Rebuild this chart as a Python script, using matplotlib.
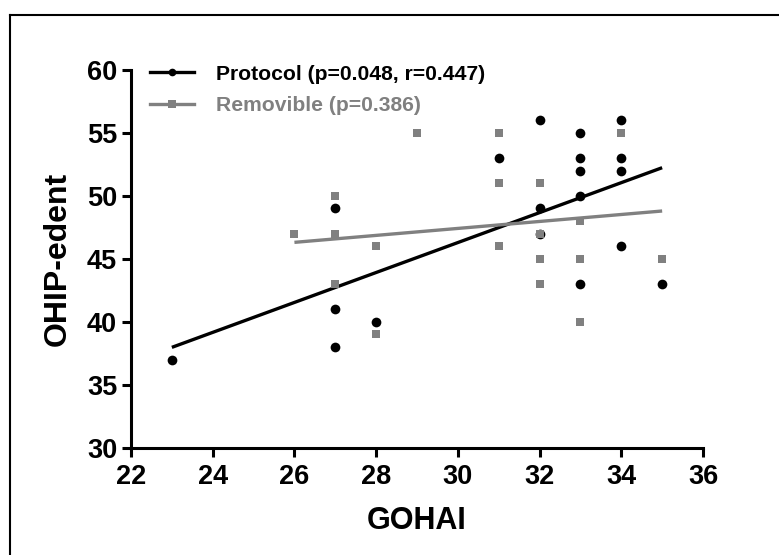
import matplotlib
matplotlib.use("Agg")
import matplotlib.pyplot as plt
from matplotlib.lines import Line2D

plt.rcParams['font.family'] = ['Liberation Sans', 'DejaVu Sans']
plt.rcParams['font.weight'] = 'bold'

# Protocol (black circles)
prot_x = [23, 27, 27, 27, 28, 31, 32, 32, 32, 33, 33, 33, 33, 33, 34, 34, 34, 34, 35]
prot_y = [37, 49, 41, 38, 40, 53, 56, 49, 47, 55, 53, 52, 50, 43, 56, 53, 52, 46, 43]
# Removible (gray squares)
rem_x = [26, 27, 27, 27, 28, 28, 29, 31, 31, 31, 32, 32, 32, 32, 33, 33, 33, 34, 35]
rem_y = [47, 50, 47, 43, 46, 39, 55, 55, 51, 46, 51, 47, 45, 43, 48, 45, 40, 55, 45]

# regression lines, end points
prot_fit_x = [23, 35]
prot_fit_y = [37.97, 52.24]
rem_fit_x = [26, 35]
rem_fit_y = [46.31, 48.8]

labels = ["Protocol (p=0.048, r=0.447)", "Removible (p=0.386)"]
gray = "#808080"

fig = plt.figure(figsize=(7.79, 5.55), dpi=100)
ax = fig.add_axes([131 / 779, 1 - 447.7 / 555, 572 / 779, 377.7 / 555])

ax.plot(prot_fit_x, prot_fit_y, color="black", lw=2.4, solid_capstyle="butt", zorder=2)
ax.plot(rem_fit_x, rem_fit_y, color=gray, lw=2.4, solid_capstyle="butt", zorder=2)
ax.plot(prot_x, prot_y, "o", color="black", ms=7, mew=0, zorder=3)
ax.plot(rem_x, rem_y, "s", color=gray, ms=6.3, mew=0, zorder=4)

ax.set_xlim(22, 36)
ax.set_ylim(30, 60)
ax.set_xticks(range(22, 37, 2))
ax.set_yticks(range(30, 61, 5))
for s in ["top", "right"]:
    ax.spines[s].set_visible(False)
for s in ["left", "bottom"]:
    ax.spines[s].set_linewidth(2.2)
ax.tick_params(direction="out", length=6.5, width=2.2, labelsize=19.5)
ax.tick_params(axis="y", pad=3.5)
ax.tick_params(axis="x", pad=5)

ax.set_xlabel("GOHAI", fontsize=22, fontweight="bold", labelpad=12)
ax.set_ylabel("OHIP-edent", fontsize=23, fontweight="bold", labelpad=10)

handles = [
    Line2D([], [], color="black", lw=2.4, marker="o", ms=5.5, mew=0),
    Line2D([], [], color=gray, lw=2.4, marker="s", ms=5.5, mew=0),
]
leg = ax.legend(handles, labels, loc="upper left", bbox_to_anchor=(0.033, 1.014),
                frameon=False, handlelength=2.1, handletextpad=1.05,
                labelspacing=0.6, borderpad=0, borderaxespad=0,
                prop={"weight": "bold", "size": 15.2})
leg.get_texts()[0].set_color("black")
leg.get_texts()[1].set_color(gray)

# outer frame (only top and left edges visible)
fig.add_artist(Line2D([10 / 779, 10 / 779], [0, 1 - 15 / 555], color="black", lw=1.5,
                      transform=fig.transFigure))
fig.add_artist(Line2D([10 / 779, 1], [1 - 15 / 555, 1 - 15 / 555], color="black", lw=1.5,
                      transform=fig.transFigure))

fig.savefig("out.png", dpi=100)
